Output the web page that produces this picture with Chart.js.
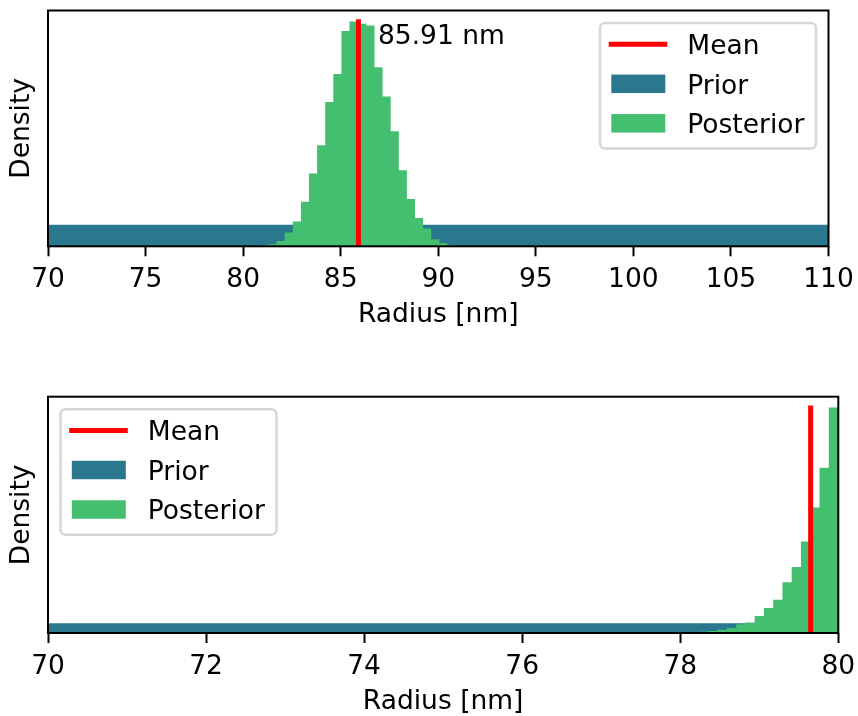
<!DOCTYPE html>
<html>
<head>
<meta charset="utf-8">
<script src="https://cdn.jsdelivr.net/npm/chart.js@4.4.1/dist/chart.umd.min.js"></script>
<style>
    html, body { margin: 0; padding: 0; background: #fff; overflow: hidden; }
    #cadre { position: relative; width: 858px; height: 716px; overflow: hidden; }
    canvas { position: absolute; left: 0; }
</style>
</head>
<body>
<div id="cadre">
    <!-- canvas un peu plus larges que la page : la marge de droite de Chart.js déborde -->
    <canvas id="graphHaut" width="880" height="358" style="top:0"></canvas>
    <canvas id="graphBas" width="880" height="358" style="top:358px"></canvas>
</div>
<script>
// ===== DONNÉES =====
// Graphique du haut : centres des classes (nm) et densité a posteriori
var rayonsHaut = [81.108, 81.523, 81.938, 82.354, 82.769, 83.185, 83.600, 84.015,
                  84.431, 84.846, 85.262, 85.677, 86.092, 86.508, 86.923, 87.339,
                  87.754, 88.169, 88.585, 89.000, 89.416, 89.831, 90.246, 90.662];
var posteriorHaut = [0.0012, 0.0021, 0.0056, 0.0156, 0.0284, 0.0512, 0.0836, 0.1163,
                     0.1664, 0.1988, 0.2483, 0.2595, 0.2567, 0.2549, 0.2066, 0.1727,
                     0.1325, 0.0874, 0.0542, 0.0322, 0.0203, 0.0079, 0.0032, 0.0009];
var priorHaut = 0.025;          // loi uniforme sur [70, 110]
var moyenneHaut = 85.91;
var bornesHaut = [70, 110];
var graduationsHaut = [70, 75, 80, 85, 90, 95, 100, 105, 110];

// Graphique du bas
var rayonsBas = [78.303, 78.420, 78.537, 78.654, 78.771, 78.888, 79.005, 79.122,
                 79.239, 79.356, 79.473, 79.590, 79.708, 79.825, 79.942];
var posteriorBas = [0.0104, 0.0166, 0.0291, 0.0478, 0.0872, 0.1059, 0.1734, 0.2555,
                    0.3406, 0.5213, 0.6802, 0.9429, 1.2960, 1.7051, 2.3282];
var priorBas = 0.1;             // loi uniforme sur [70, 80]
var moyenneBas = 79.65;
var bornesBas = [70, 80];
var graduationsBas = [70, 72, 74, 76, 78, 80];

var COULEUR_PRIOR = '#2a788e';
var COULEUR_POST = '#44bf70';
var TAILLE = 26.5;

Chart.defaults.font.family = "'DejaVu Sans', sans-serif";
Chart.defaults.font.size = TAILLE;
Chart.defaults.color = '#000';

// ===== PLUGINS =====
// Cadre noir autour de la zone de tracé (les quatre bords)
var cadrePlugin = {
    id: 'cadre',
    afterDatasetsDraw: function (chart) {
        var a = chart.chartArea, ctx = chart.ctx;
        ctx.save();
        ctx.lineWidth = 2;
        ctx.strokeStyle = '#000';
        ctx.strokeRect(a.left, a.top, a.right - a.left, a.bottom - a.top);
        ctx.restore();
    }
};

// Légende dessinée à la main dans un coin de la zone de tracé
var legendePlugin = {
    id: 'legende',
    afterDraw: function (chart, args, opts) {
        var a = chart.chartArea, ctx = chart.ctx;
        var w = 216, h = 125.5, marge = 12.5;
        var x0 = opts.cote === 'droite' ? a.right - marge - w : a.left + marge;
        var y0 = a.top + marge;
        ctx.save();
        ctx.beginPath();
        ctx.roundRect(x0, y0, w, h, 5);
        ctx.fillStyle = 'rgba(255,255,255,0.8)';
        ctx.fill();
        ctx.lineWidth = 2.5;
        ctx.strokeStyle = 'rgba(204,204,204,0.8)';
        ctx.stroke();

        chart.data.datasets.forEach(function (ds, i) {
            var cy = y0 + 21.3 + i * 39.5;
            if (ds.forme === 'ligne') {
                ctx.beginPath();
                ctx.moveTo(x0 + 8.7, cy);
                ctx.lineTo(x0 + 67.3, cy);
                ctx.lineWidth = 5;
                ctx.strokeStyle = ds.borderColor;
                ctx.stroke();
            } else {
                ctx.fillStyle = ds.backgroundColor;
                ctx.fillRect(x0 + 11.3, cy - 9.25, 54, 18.5);
            }
            ctx.fillStyle = '#000';
            ctx.font = TAILLE + "px 'DejaVu Sans'";
            ctx.textBaseline = 'alphabetic';
            ctx.textAlign = 'left';
            ctx.fillText(ds.label, x0 + 87.3, cy + 9.8);
        });
        ctx.restore();
    }
};

// Valeur de la moyenne écrite à côté de la ligne rouge
var etiquettePlugin = {
    id: 'etiquette',
    afterDatasetsDraw: function (chart, args, opts) {
        if (!opts.afficher) return;
        var ctx = chart.ctx;
        var x = chart.scales.x.getPixelForValue(opts.moyenne + 1);
        var y = chart.scales.y.getPixelForValue(0.9 * opts.pic);
        ctx.save();
        ctx.fillStyle = '#000';
        ctx.font = TAILLE + "px 'DejaVu Sans'";
        ctx.textBaseline = 'alphabetic';
        ctx.textAlign = 'left';
        ctx.fillText(opts.moyenne.toFixed(2) + ' nm', x, y);
        ctx.restore();
    }
};

// ===== CONSTRUCTION D'UN GRAPHIQUE =====
function creerGraphique(id, rayons, posterior, prior, moyenne, bornes, graduations, reglages) {
    var pic = Math.max.apply(null, posterior);

    return new Chart(document.getElementById(id), {
        type: 'bar',
        data: {
            datasets: [
                {
                    type: 'line',
                    label: 'Mean',
                    forme: 'ligne',
                    data: [{ x: moyenne, y: 0 }, { x: moyenne, y: pic }],
                    borderColor: '#ff0000',
                    borderWidth: 5,
                    borderCapStyle: 'square',
                    pointRadius: 0,
                    clip: 0,
                    order: 0
                },
                {
                    type: 'line',
                    label: 'Prior',
                    forme: 'bloc',
                    data: [{ x: bornes[0], y: prior }, { x: bornes[1], y: prior }],
                    backgroundColor: COULEUR_PRIOR,
                    borderColor: 'rgba(0,0,0,0)',
                    borderWidth: 0,
                    pointRadius: 0,
                    fill: 'origin',
                    order: 2
                },
                {
                    type: 'bar',
                    label: 'Posterior',
                    forme: 'bloc',
                    data: rayons.map(function (r, i) { return { x: r, y: posterior[i] }; }),
                    backgroundColor: COULEUR_POST,
                    borderWidth: 0,
                    barPercentage: 1,
                    categoryPercentage: 1,
                    order: 1
                }
            ]
        },
        options: {
            responsive: false,
            animation: false,
            events: [],
            layout: { padding: reglages.marges },
            plugins: {
                legend: { display: false },
                tooltip: { enabled: false },
                legende: { cote: reglages.coteLegende },
                etiquette: { afficher: reglages.etiquette, moyenne: moyenne, pic: pic }
            },
            scales: {
                x: {
                    type: 'linear',
                    min: bornes[0],
                    max: bornes[1],
                    offset: false,
                    afterBuildTicks: function (s) {
                        s.ticks = graduations.map(function (v) { return { value: v }; });
                    },
                    afterFit: function (s) { s.height = reglages.hauteurX; },
                    ticks: {
                        maxRotation: 0,
                        autoSkip: false,
                        padding: 11,
                        font: { size: TAILLE, lineHeight: 1 }
                    },
                    grid: {
                        offset: false,
                        drawOnChartArea: false,
                        drawTicks: true,
                        tickLength: 10,
                        tickWidth: 2,
                        tickColor: '#000'
                    },
                    border: { display: false },
                    title: {
                        display: true,
                        text: 'Radius [nm]',
                        font: { size: TAILLE, lineHeight: 1 },
                        padding: { top: 0, bottom: reglages.titreX }
                    }
                },
                y: {
                    min: 0,
                    max: 1.05 * pic,
                    afterFit: function (s) { s.width = 48; },
                    ticks: { display: false },
                    grid: { display: false },
                    border: { display: false },
                    title: {
                        display: true,
                        text: 'Density',
                        font: { size: TAILLE, lineHeight: 1 },
                        padding: { top: 8.5, bottom: 0 }
                    }
                }
            }
        },
        plugins: [cadrePlugin, etiquettePlugin, legendePlugin]
    });
}

// ===== LES DEUX GRAPHIQUES =====
creerGraphique('graphHaut', rayonsHaut, posteriorHaut, priorHaut, moyenneHaut, bornesHaut, graduationsHaut, {
    marges: { left: 0, top: 10.5, right: 880 - 828.5, bottom: 0 },
    hauteurX: 111.7,
    titreX: 29.5,
    coteLegende: 'droite',
    etiquette: true
});

creerGraphique('graphBas', rayonsBas, posteriorBas, priorBas, moyenneBas, bornesBas, graduationsBas, {
    marges: { left: 0, top: 38.7, right: 880 - 838.3, bottom: 0 },
    hauteurX: 83,
    titreX: 0.3,
    coteLegende: 'gauche',
    etiquette: false
});
</script>
</body>
</html>
